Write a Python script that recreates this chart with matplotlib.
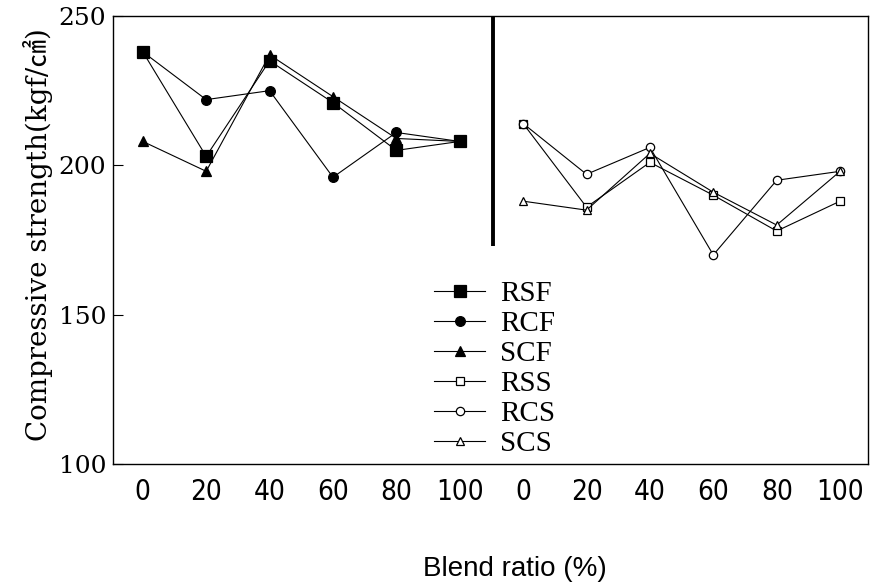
import numpy as np
import matplotlib.pyplot as plt

# blend ratios (%) for the two groups, fine (F) and coarse (S) aggregates
ratios = [0, 20, 40, 60, 80, 100]

# compressive strength (kgf/cm2)
rsf = [238, 203, 235, 221, 205, 208]
rcf = [238, 222, 225, 196, 211, 208]
scf = [208, 198, 237, 223, 209, 208]
rss = [214, 186, 201, 190, 178, 188]
rcs = [214, 197, 206, 170, 195, 198]
scs = [188, 185, 204, 191, 180, 198]

series = [
    ("RSF", rsf, "s", "black", 8),
    ("RCF", rcf, "o", "black", 7),
    ("SCF", scf, "^", "black", 7.5),
    ("RSS", rss, "s", "white", 6),
    ("RCS", rcs, "o", "white", 6),
    ("SCS", scs, "^", "white", 6),
]

x_left = np.arange(len(ratios))
x_right = x_left + len(ratios)

fig = plt.figure(figsize=(8.74, 5.84), dpi=100)
ax = fig.add_axes([0.1293, 0.2055, 0.8638, 0.7671])

for i, (name, vals, mk, fc, ms) in enumerate(series):
    xs = x_left if i < 3 else x_right
    ax.plot(xs, vals, color="black", lw=0.8, marker=mk, ms=ms,
            mfc=fc, mec="black", mew=0.9, label=name)

# divider between the two groups
ax.plot([5.52, 5.52], [173, 250], color="black", lw=2.8, solid_capstyle="butt")

ax.set_xlim(-0.47, 11.44)
ax.set_ylim(100, 250)
ax.set_xticks(np.concatenate([x_left, x_right]))
ax.set_xticklabels([str(r) for r in ratios] * 2, family="DejaVu Sans",
                   stretch="condensed", fontsize=20)
ax.set_yticks([100, 150, 200, 250])
ax.set_yticklabels(["100", "150", "200", "250"], family="DejaVu Serif", fontsize=18)
ax.tick_params(axis="x", length=0, pad=10)
ax.tick_params(axis="y", direction="in", length=7, width=0.8, pad=5)
for sp in ax.spines.values():
    sp.set_linewidth(1.0)

ax.set_xlabel("Blend ratio (%)", family="Liberation Sans", fontsize=20)
ax.xaxis.set_label_coords(0.532, -0.205)
fig.text(0.043, 0.598, "Compressive strength(kgf/㎠)", rotation=90,
         ha="center", va="center", fontsize=20,
         family=["DejaVu Serif", "Noto Sans CJK KR"])

ax.legend(loc="upper left", bbox_to_anchor=(0.41, 0.435), frameon=False,
          prop={"family": "Liberation Serif", "size": 21},
          handlelength=1.75, handletextpad=0.5, labelspacing=0.12,
          borderaxespad=0)

fig.savefig("out.png", dpi=100)
